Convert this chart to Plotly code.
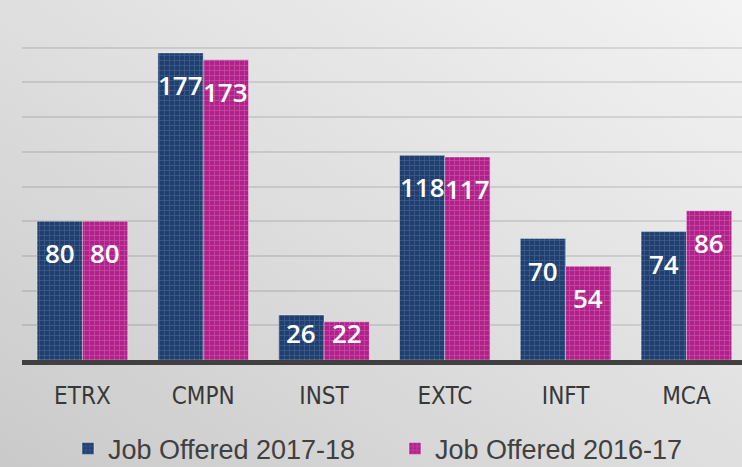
import base64
import plotly.graph_objects as go

categories = ["ETRX", "CMPN", "INST", "EXTC", "INFT", "MCA"]
series_2017 = [80, 177, 26, 118, 70, 74]
series_2016 = [80, 173, 22, 117, 54, 86]
name_2017 = "Job Offered 2017-18"
name_2016 = "Job Offered 2016-17"

W, H = 742, 467
ML, MR, MT, MB = 22, 0, 13, 107
PW, PH = W - ML - MR, H - MT - MB

svg = (
    '<svg xmlns="http://www.w3.org/2000/svg" width="742" height="467" preserveAspectRatio="none" viewBox="0 0 742 467">'
    '<defs><linearGradient id="g" x1="0" y1="1" x2="1" y2="0">'
    '<stop offset="0" stop-color="#cacaca"/><stop offset="0.5" stop-color="#dfdfdf"/>'
    '<stop offset="1" stop-color="#f3f3f3"/></linearGradient></defs>'
    '<rect width="742" height="467" fill="url(#g)"/></svg>'
)
bg_src = "data:image/svg+xml;base64," + base64.b64encode(svg.encode()).decode()

fig = go.Figure()
fig.add_trace(go.Bar(
    x=categories, y=series_2017, name=name_2017,
    marker=dict(color="#203f6e", line=dict(color="rgba(255,255,255,0.35)", width=1),
                pattern=dict(shape="+", fgcolor="#5677a8", size=5, solidity=0.3)),
))
fig.add_trace(go.Bar(
    x=categories, y=series_2016, name=name_2016,
    marker=dict(color="#b0228a", line=dict(color="rgba(255,255,255,0.35)", width=1),
                pattern=dict(shape="+", fgcolor="#d870bd", size=5, solidity=0.3)),
))

# value labels near the top inside each bar
annotations = []
for vals, shift in ((series_2017, -22.6), (series_2016, 22.6)):
    for c, v in zip(categories, vals):
        annotations.append(dict(
            x=c, y=max(v - 18.5, 15.5), xref="x", yref="y", text=str(v),
            showarrow=False, xshift=shift, yanchor="middle", xanchor="center",
            font=dict(family="Open Sans", size=26, color="white", weight=600),
        ))

fig.update_layout(
    width=W, height=H,
    margin=dict(l=ML, r=MR, t=MT, b=MB, autoexpand=False),
    paper_bgcolor="rgba(0,0,0,0)", plot_bgcolor="rgba(0,0,0,0)",
    barmode="group", bargap=0.25, bargroupgap=0,
    images=[dict(source=bg_src, xref="paper", yref="paper",
                 x=-ML / PW, y=1 + MT / PH, sizex=W / PW, sizey=H / PH,
                 sizing="stretch", layer="below", xanchor="left", yanchor="top")],
    annotations=annotations,
    showlegend=True,
    legend=dict(orientation="h", x=0.518, xanchor="center", y=-0.256, yanchor="middle",
                font=dict(family="Arial, Liberation Sans", size=27, color="#404040"),
                bgcolor="rgba(0,0,0,0)", entrywidth=282, entrywidthmode="pixels",
                traceorder="normal"),
    xaxis=dict(range=[-0.5, 5.46], showline=True, linecolor="#404040", linewidth=5,
               ticks="", showgrid=False, ticklabelstandoff=10,
               tickfont=dict(family="DejaVu Sans Condensed", size=24, color="#383838")),
    yaxis=dict(range=[0, 200], dtick=20, showticklabels=False, zeroline=False,
               showgrid=True, gridcolor="rgba(0,0,0,0.1)", gridwidth=2),
)

fig.write_html("out.html", config={"displayModeBar": False},
               post_script="document.body.style.margin='0';document.body.style.overflow='hidden';")
